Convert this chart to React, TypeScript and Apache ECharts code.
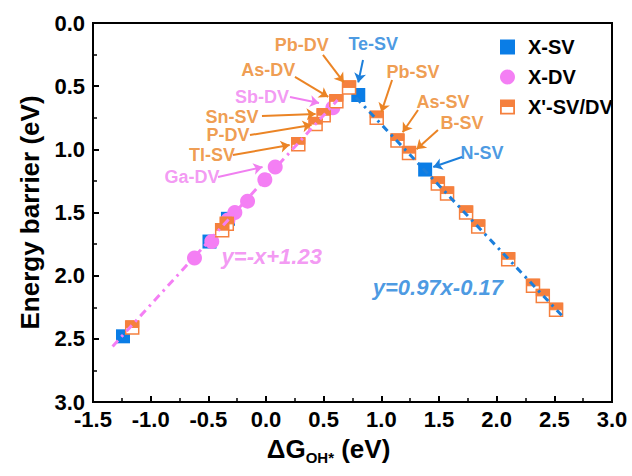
import React, { useEffect, useRef } from "react";
import * as echarts from "echarts";

// ---- data (ΔG_OH* in eV, energy barrier in eV) ----
const xMin = -1.5;
const xMax = 3.0;
const yMin = 0.0;
const yMax = 3.0;
const tickStep = 0.5;

const seriesNames = ["X-SV", "X-DV", "X'-SV/DV"];

// X-SV (blue squares)
const xsvPoints: number[][] = [
  [0.8, 0.57],
  [1.38, 1.16],
  [-1.24, 2.48],
  [-0.49, 1.73],
  [-0.33, 1.55],
];

// X-DV (pink circles)
const xdvPoints: number[][] = [
  [0.58, 0.67],
  [0.08, 1.14],
  [-0.01, 1.24],
  [-0.16, 1.41],
  [-0.27, 1.5],
  [-0.33, 1.56],
  [-0.47, 1.73],
  [-0.62, 1.86],
];

// X'-SV/DV (half-filled orange squares)
const xprimePoints: number[][] = [
  [0.72, 0.51],
  [0.61, 0.62],
  [0.5, 0.73],
  [0.43, 0.8],
  [0.28, 0.96],
  [-0.34, 1.59],
  [-0.38, 1.64],
  [-1.16, 2.41],
  [0.96, 0.75],
  [1.14, 0.93],
  [1.24, 1.03],
  [1.49, 1.27],
  [1.57, 1.35],
  [1.735, 1.5],
  [1.84, 1.61],
  [2.1, 1.87],
  [2.315, 2.08],
  [2.4, 2.16],
  [2.515, 2.27],
];

// fitted lines (end points)
const fitDV: number[][] = [
  [-1.33, 2.56],
  [0.62, 0.61],
];
const fitSV: number[][] = [
  [0.78, 0.59],
  [2.57, 2.32],
];

const eqDV = "y=-x+1.23";
const eqSV = "y=0.97x-0.17";
const eqDVAt = [0.05, 1.85];
const eqSVAt = [1.49, 2.09];

// annotations: text, kind, text position, arrow start, arrow end (data coords)
const annotationNames = ["Pb-DV", "Te-SV", "As-DV", "Sb-DV", "Sn-SV", "P-DV", "Tl-SV", "Ga-DV", "Pb-SV", "As-SV", "B-SV", "N-SV"];
const annotationKinds = ["o", "b", "o", "p", "o", "o", "o", "p", "o", "o", "o", "b"];
const annotationAt: number[][] = [
  [0.31, 0.174], [0.93, 0.166], [0.02, 0.372], [-0.035, 0.586], [-0.295, 0.744], [-0.33, 0.887],
  [-0.468, 1.045], [-0.642, 1.219], [1.275, 0.388], [1.535, 0.625], [1.7, 0.79], [1.873, 1.029],
];
const annotationFrom: number[][] = [
  [0.494, 0.253], [0.841, 0.293], [0.251, 0.427], [0.208, 0.586], [-0.035, 0.736], [-0.139, 0.887],
  [-0.286, 1.045], [-0.416, 1.219], [1.093, 0.451], [1.318, 0.689], [1.491, 0.847], [1.7, 1.061],
];
const annotationTo: number[][] = [
  [0.675, 0.47], [0.8, 0.47], [0.54, 0.585], [0.46, 0.633], [0.43, 0.72], [0.395, 0.807],
  [0.205, 0.966], [-0.03, 1.14], [1.0, 0.705], [1.185, 0.865], [1.305, 1.0], [1.45, 1.14],
];

// ---- styles ----
const FONT = "Arial, 'Liberation Sans', Helvetica, sans-serif";
const BLUE = "#0a7de6";
const PINK = "#f47ff4";
const ORANGE = "#f5803e";
const ORANGE_TEXT = "#eb8425";
const BLUE_TEXT = "#1c7fdb";
const PINK_TEXT = "#f07ff0";
const kindColor: Record<string, string> = { o: ORANGE_TEXT, b: BLUE_TEXT, p: PINK_TEXT };

const HALF_SQUARE = "path://M0,0H10V10H0Z M1.2,5V8.8H8.8V5Z";

export default function App() {
  const ref = useRef<HTMLDivElement>(null);

  useEffect(() => {
    if (!ref.current) return;
    const chart = echarts.init(ref.current, null, { renderer: "svg" });

    const fmt = (v: number) => v.toFixed(1);

    const option: any = {
      animation: false,
      backgroundColor: "#ffffff",
      textStyle: { fontFamily: FONT },
      grid: {
        left: 93,
        right: 20,
        top: 23,
        bottom: 74,
        show: true,
        borderColor: "#000",
        borderWidth: 2,
        backgroundColor: "transparent",
      },
      legend: {
        orient: "vertical",
        left: 495,
        top: 32,
        itemWidth: 15,
        itemHeight: 15,
        itemGap: 10,
        textStyle: { fontSize: 20, fontWeight: "bold", color: "#000", fontFamily: FONT, padding: [0, 0, 0, 8] },
        data: [
          { name: seriesNames[0], icon: "rect" },
          { name: seriesNames[1], icon: "circle" },
          { name: seriesNames[2], icon: HALF_SQUARE, itemStyle: { color: ORANGE } },
        ],
      },
      xAxis: {
        type: "value",
        min: xMin,
        max: xMax,
        interval: tickStep,
        name: "{m|ΔG}{s|OH*}{m| (eV)}",
        nameLocation: "middle",
        nameGap: 34,
        nameTextStyle: {
          padding: [0, 48, 0, 0],
          rich: {
            m: { fontSize: 26, fontWeight: "bold", color: "#000", fontFamily: FONT, lineHeight: 28, verticalAlign: "top" },
            s: { fontSize: 15, fontWeight: "bold", color: "#000", fontFamily: FONT, lineHeight: 15, verticalAlign: "top", padding: [14, 0, 0, 0] },
          },
        },
        axisLine: { show: true, onZero: false, lineStyle: { color: "#000", width: 2 } },
        axisTick: { show: true, inside: true, length: 6, lineStyle: { color: "#000", width: 2 } },
        minorTick: { show: true, splitNumber: 2, length: 4, lineStyle: { color: "#000", width: 1.5 } },
        splitLine: { show: false },
        axisLabel: { fontSize: 22, fontWeight: "bold", color: "#000", fontFamily: FONT, margin: 6, formatter: fmt },
      },
      yAxis: {
        type: "value",
        inverse: true,
        min: yMin,
        max: yMax,
        interval: tickStep,
        name: "Energy barrier (eV)",
        nameLocation: "middle",
        nameGap: 50,
        nameTextStyle: { fontSize: 26, fontWeight: "bold", color: "#000", fontFamily: FONT },
        axisLine: { show: true, onZero: false, lineStyle: { color: "#000", width: 2 } },
        axisTick: { show: true, inside: true, length: 6, lineStyle: { color: "#000", width: 2 } },
        minorTick: { show: true, splitNumber: 2, length: 4, lineStyle: { color: "#000", width: 1.5 } },
        splitLine: { show: false },
        axisLabel: { fontSize: 22, fontWeight: "bold", color: "#000", fontFamily: FONT, margin: 8, formatter: fmt },
      },
      series: [
        {
          name: seriesNames[0],
          type: "scatter",
          symbol: "rect",
          symbolSize: 14,
          itemStyle: { color: BLUE, opacity: 1 },
          data: xsvPoints,
          z: 2,
        },
        {
          name: seriesNames[1],
          type: "scatter",
          symbol: "circle",
          symbolSize: 15,
          itemStyle: { color: PINK, opacity: 1 },
          data: xdvPoints,
          z: 3,
        },
        {
          name: seriesNames[2],
          type: "custom",
          itemStyle: { color: ORANGE },
          encode: { x: 0, y: 1 },
          data: xprimePoints,
          z: 4,
          renderItem: (params: any, api: any) => {
            const p = api.coord([api.value(0), api.value(1)]);
            const s = 13;
            return {
              type: "group",
              children: [
                {
                  type: "rect",
                  shape: { x: p[0] - s / 2, y: p[1] - s / 2, width: s, height: s },
                  style: { fill: "#fff", stroke: ORANGE, lineWidth: 1.5 },
                },
                {
                  type: "rect",
                  shape: { x: p[0] - s / 2, y: p[1] - s / 2, width: s, height: s / 2 },
                  style: { fill: ORANGE, stroke: ORANGE, lineWidth: 1 },
                },
              ],
            };
          },
        },
        {
          name: "fitDV",
          type: "line",
          data: fitDV,
          symbol: "none",
          lineStyle: { color: PINK, width: 3, type: [8, 5, 2.5, 5] },
          z: 5,
          silent: true,
        },
        {
          name: "fitSV",
          type: "line",
          data: fitSV,
          symbol: "none",
          lineStyle: { color: BLUE_TEXT, width: 3, type: [7, 5, 2.5, 5] },
          z: 5,
          silent: true,
        },
        {
          name: "annotations",
          type: "scatter",
          symbolSize: 1,
          itemStyle: { color: "rgba(0,0,0,0)" },
          z: 6,
          silent: true,
          label: {
            show: true,
            position: "inside",
            formatter: "{b}",
            fontSize: 18,
            fontWeight: "bold",
            fontFamily: FONT,
          },
          data: annotationNames.map((n, i) => ({
            name: n,
            value: annotationAt[i],
            label: { color: kindColor[annotationKinds[i]] },
          })),
          markLine: {
            silent: true,
            symbol: ["none", "arrow"],
            symbolSize: 9,
            label: { show: false },
            animation: false,
            data: annotationNames.map((n, i) => [
              {
                coord: annotationFrom[i],
                lineStyle: { color: kindColor[annotationKinds[i]], width: 2, type: "solid" },
                itemStyle: { color: kindColor[annotationKinds[i]] },
              },
              { coord: annotationTo[i] },
            ]),
          },
        },
        {
          name: "equations",
          type: "scatter",
          symbolSize: 1,
          itemStyle: { color: "rgba(0,0,0,0)" },
          z: 6,
          silent: true,
          label: {
            show: true,
            position: "inside",
            formatter: "{b}",
            fontSize: 22,
            fontWeight: "bold",
            fontStyle: "italic",
            fontFamily: FONT,
          },
          data: [
            { name: eqDV, value: eqDVAt, label: { color: PINK_TEXT } },
            { name: eqSV, value: eqSVAt, label: { color: BLUE_TEXT } },
          ],
        },
      ],
    };

    chart.setOption(option);
    return () => chart.dispose();
  }, []);

  return <div ref={ref} style={{ width: 632, height: 476, position: "absolute", left: 0, top: 0 }} />;
}
